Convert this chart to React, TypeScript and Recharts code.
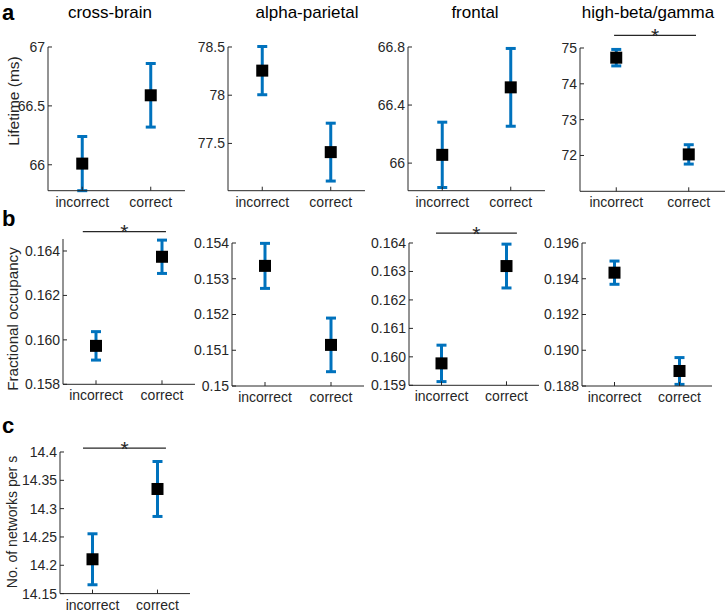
import { ScatterChart, Scatter, XAxis, YAxis, ErrorBar, ReferenceLine } from 'recharts';

const conditions = ['incorrect', 'correct'];
const networks = ['cross-brain', 'alpha-parietal', 'frontal', 'high-beta/gamma'];

// mean and SEM per network, ordered [incorrect, correct]
const lifetimeMean = [[66.01, 66.59], [78.255, 77.41], [66.057, 66.522], [74.73, 72.03]];
const lifetimeSem = [[0.23, 0.27], [0.25, 0.3], [0.225, 0.268], [0.23, 0.27]];
const lifetimeTicks = [[66, 66.5, 67], [77.5, 78, 78.5], [66, 66.4, 66.8], [72, 73, 74, 75]];
const lifetimeRange = [[65.78, 67], [77.01, 78.5], [65.81, 66.8], [71, 75]];
const lifetimeSignificant = [false, false, false, true];

const occupancyMean = [[0.15973, 0.16374], [0.15336, 0.15115], [0.15977, 0.16319], [0.19434, 0.18884]];
const occupancySem = [[0.00064, 0.00075], [0.00063, 0.00075], [0.00064, 0.00077], [0.00065, 0.00075]];
const occupancyTicks = [
  [0.158, 0.16, 0.162, 0.164],
  [0.15, 0.151, 0.152, 0.153, 0.154],
  [0.159, 0.16, 0.161, 0.162, 0.163, 0.164],
  [0.188, 0.19, 0.192, 0.194, 0.196],
];
const occupancyRange = [[0.158, 0.16454], [0.15, 0.154], [0.159, 0.164], [0.188, 0.196]];
const occupancySignificant = [true, false, true, false];

const rateMean = [14.2106, 14.3347];
const rateSem = [0.045, 0.0485];
const rateTicks = [14.15, 14.2, 14.25, 14.3, 14.35, 14.4];
const rateRange = [14.15, 14.4];
const rateSignificant = true;

const INK = '#262626';
const BLUE = '#0072BD';
const FONT = '"Liberation Sans", Arial, sans-serif';

const PAD_L = 60;
const PAD_T = 26;
const PAD_R = 6;
const PAD_B = 30;

type Box = { left: number; top: number; right: number; bottom: number };
type Sig = { x1: number; x2: number; y: number };

// plot boxes (axis lines) for each subplot
const rowA: Box[] = [
  { left: 48, top: 47.3, right: 185, bottom: 191 },
  { left: 228, top: 47.3, right: 365, bottom: 191 },
  { left: 408, top: 47.3, right: 545, bottom: 191 },
  { left: 580, top: 47.7, right: 725, bottom: 191 },
];
const rowB: Box[] = [
  { left: 63, top: 239, right: 195, bottom: 384.3 },
  { left: 232, top: 242.7, right: 364, bottom: 385.7 },
  { left: 409, top: 242.7, right: 539, bottom: 385 },
  { left: 582, top: 242.7, right: 712, bottom: 385.7 },
];
const boxC: Box = { left: 60, top: 451.7, right: 190, bottom: 593.3 };

// significance bars, in axis units
const sigA: (Sig | null)[] = [null, null, null, { x1: 0.97, x2: 2.1, y: 75.355 }];
const sigB: (Sig | null)[] = [
  { x1: 0.8, x2: 2.06, y: 0.16487 },
  null,
  { x1: 0.915, x2: 2.16, y: 0.16435 },
  null,
];
const sigC: Sig = { x1: 0.854, x2: 2.13, y: 14.407 };

const renderSquare = (p: any) => (
  <rect x={p.cx - 6} y={p.cy - 6} width={12} height={12} fill="#000" />
);

const Star = (props: any) => {
  const vb = props.viewBox || { x: 0, y: 0, width: 0 };
  return (
    <text x={vb.x + vb.width / 2} y={vb.y + 7.5} textAnchor="middle" fontSize={21} fill={INK}>
      *
    </text>
  );
};

type PanelProps = {
  box: Box;
  mean: number[];
  sem: number[];
  domain: number[];
  ticks: number[];
  fixed?: number;
  sig?: Sig | null;
};

function Panel({ box, mean, sem, domain, ticks, fixed, sig }: PanelProps) {
  const data = mean.map((m, i) => ({ x: i + 1, y: m, err: sem[i] }));
  const w = box.right - box.left + PAD_L + PAD_R;
  const h = box.bottom - box.top + PAD_T + PAD_B;
  return (
    <div style={{ position: 'absolute', left: box.left - PAD_L, top: box.top - PAD_T }}>
      <ScatterChart width={w} height={h} margin={{ top: PAD_T, right: PAD_R, bottom: 0, left: 0 }}>
        <XAxis
          type="number"
          dataKey="x"
          domain={[0.5, 2.5]}
          ticks={[1, 2]}
          interval={0}
          height={PAD_B}
          tickFormatter={(v: number) => conditions[v - 1]}
          tickSize={-4}
          tickMargin={10}
          axisLine={{ stroke: INK, strokeWidth: 1 }}
          tickLine={{ stroke: INK }}
          tick={{ fill: INK, fontSize: 14 }}
        />
        <YAxis
          type="number"
          dataKey="y"
          domain={domain}
          ticks={ticks}
          interval={0}
          width={PAD_L}
          allowDataOverflow
          tickFormatter={(v: number) => (fixed ? v.toFixed(fixed) : String(v))}
          tickSize={-4}
          tickMargin={7}
          axisLine={{ stroke: INK, strokeWidth: 1 }}
          tickLine={{ stroke: INK }}
          tick={{ fill: INK, fontSize: 14 }}
        />
        {sig && (
          <ReferenceLine
            segment={[{ x: sig.x1, y: sig.y }, { x: sig.x2, y: sig.y }]}
            ifOverflow="visible"
            stroke={INK}
            strokeWidth={1.2}
            label={<Star />}
          />
        )}
        <Scatter data={data} isAnimationActive={false} shape={renderSquare}>
          <ErrorBar dataKey="err" direction="y" width={5} stroke={BLUE} strokeWidth={3} />
        </Scatter>
      </ScatterChart>
    </div>
  );
}

const titleX = [110, 307, 475, 648];

export default function App() {
  return (
    <div
      style={{
        position: 'absolute',
        left: 0,
        top: 0,
        width: 728,
        height: 612,
        background: '#fff',
        fontFamily: FONT,
        color: INK,
      }}
    >
      {rowA.map((box, i) => (
        <Panel
          key={`a-${i}`}
          box={box}
          mean={lifetimeMean[i]}
          sem={lifetimeSem[i]}
          domain={lifetimeRange[i]}
          ticks={lifetimeTicks[i]}
          sig={lifetimeSignificant[i] ? sigA[i] : null}
        />
      ))}
      {rowB.map((box, i) => (
        <Panel
          key={`b-${i}`}
          box={box}
          mean={occupancyMean[i]}
          sem={occupancySem[i]}
          domain={occupancyRange[i]}
          ticks={occupancyTicks[i]}
          fixed={i === 1 ? undefined : 3}
          sig={occupancySignificant[i] ? sigB[i] : null}
        />
      ))}
      <Panel
        box={boxC}
        mean={rateMean}
        sem={rateSem}
        domain={rateRange}
        ticks={rateTicks}
        sig={rateSignificant ? sigC : null}
      />

      {/* panel letters, titles, y labels */}
      <svg width={728} height={612} style={{ position: 'absolute', left: 0, top: 0, pointerEvents: 'none' }}>
        <text x={2} y={20} fontSize={22} fontWeight="bold" fill="#000">a</text>
        <text x={2} y={226} fontSize={22} fontWeight="bold" fill="#000">b</text>
        <text x={2} y={433} fontSize={22} fontWeight="bold" fill="#000">c</text>
        {networks.map((n, i) => (
          <text key={n} x={titleX[i]} y={18} fontSize={17} textAnchor="middle" fill="#000">
            {n}
          </text>
        ))}
        <text transform="translate(13,101) rotate(-90)" fontSize={15.5} textAnchor="middle" dominantBaseline="central" fill={INK}>
          Lifetime (ms)
        </text>
        <text transform="translate(12,319) rotate(-90)" fontSize={15.2} textAnchor="middle" dominantBaseline="central" fill={INK}>
          Fractional occupancy
        </text>
        <text transform="translate(12,522) rotate(-90)" fontSize={14} textAnchor="middle" dominantBaseline="central" fill={INK}>
          No. of networks per s
        </text>
      </svg>
    </div>
  );
}
